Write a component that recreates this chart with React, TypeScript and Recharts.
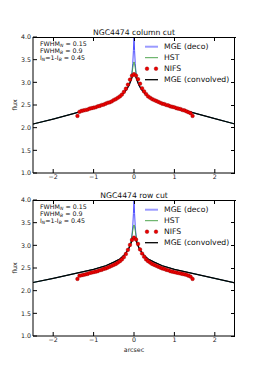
import React from 'react';
import { ComposedChart, Line, XAxis, YAxis } from 'recharts';

// model grid (arcsec) shared by the MGE / HST curves
const MODEL_X = [-2.5, -2.0, -1.5, -1.0, -0.7, -0.5, -0.35, -0.25, -0.18, -0.12, -0.08, -0.05, -0.03, -0.015, 0,
  0.015, 0.03, 0.05, 0.08, 0.12, 0.18, 0.25, 0.35, 0.5, 0.7, 1.0, 1.5, 2.0, 2.5];

const COL_DECO = [2.08, 2.19, 2.31, 2.44, 2.53, 2.61, 2.69, 2.77, 2.84, 2.93, 3.05, 3.22, 3.42, 3.70, 4.00,
  3.70, 3.42, 3.22, 3.05, 2.93, 2.84, 2.77, 2.69, 2.61, 2.53, 2.45, 2.32, 2.20, 2.08];
const COL_HST = [2.08, 2.19, 2.31, 2.44, 2.53, 2.61, 2.69, 2.77, 2.85, 2.95, 3.07, 3.20, 3.32, 3.41, 3.45,
  3.41, 3.32, 3.20, 3.07, 2.95, 2.85, 2.77, 2.69, 2.61, 2.53, 2.45, 2.32, 2.20, 2.08];
const COL_CONV = [2.08, 2.19, 2.31, 2.44, 2.53, 2.61, 2.69, 2.77, 2.85, 2.94, 3.03, 3.10, 3.15, 3.18, 3.19,
  3.18, 3.15, 3.10, 3.03, 2.94, 2.85, 2.77, 2.69, 2.61, 2.53, 2.45, 2.32, 2.20, 2.08];

const ROW_DECO = [2.18, 2.27, 2.37, 2.47, 2.55, 2.63, 2.70, 2.78, 2.85, 2.94, 3.06, 3.23, 3.43, 3.70, 4.00,
  3.70, 3.43, 3.23, 3.06, 2.94, 2.85, 2.78, 2.70, 2.63, 2.55, 2.47, 2.37, 2.27, 2.17];
const ROW_HST = [2.18, 2.27, 2.37, 2.47, 2.55, 2.63, 2.70, 2.78, 2.86, 2.96, 3.08, 3.21, 3.33, 3.41, 3.45,
  3.41, 3.33, 3.21, 3.08, 2.96, 2.86, 2.78, 2.70, 2.63, 2.55, 2.47, 2.37, 2.27, 2.17];
const ROW_CONV = [2.18, 2.27, 2.37, 2.47, 2.55, 2.63, 2.70, 2.78, 2.86, 2.95, 3.03, 3.10, 3.15, 3.18, 3.19,
  3.18, 3.15, 3.10, 3.03, 2.95, 2.86, 2.78, 2.70, 2.63, 2.55, 2.47, 2.37, 2.27, 2.17];

// NIFS spaxels along the cut
const NIFS_X = [-1.4, -1.35, -1.3, -1.25, -1.2, -1.15, -1.1, -1.05, -1.0, -0.95, -0.9, -0.85, -0.8, -0.75, -0.7,
  -0.65, -0.6, -0.55, -0.5, -0.45, -0.4, -0.35, -0.3, -0.25, -0.2, -0.15, -0.1, -0.05, 0, 0.05, 0.1, 0.15, 0.2,
  0.25, 0.3, 0.35, 0.4, 0.45, 0.5, 0.55, 0.6, 0.65, 0.7, 0.75, 0.8, 0.85, 0.9, 0.95, 1.0, 1.05, 1.1, 1.15, 1.2,
  1.25, 1.3, 1.35, 1.4, 1.45];
const NIFS_COL = [2.26, 2.35, 2.37, 2.38, 2.39, 2.40, 2.42, 2.43, 2.44, 2.45, 2.47, 2.48, 2.50, 2.51, 2.53,
  2.55, 2.56, 2.58, 2.61, 2.63, 2.66, 2.69, 2.73, 2.79, 2.86, 2.95, 3.06, 3.15, 3.18, 3.15, 3.07, 2.97, 2.87,
  2.80, 2.74, 2.69, 2.66, 2.63, 2.61, 2.59, 2.57, 2.55, 2.53, 2.52, 2.50, 2.49, 2.47, 2.46, 2.45, 2.43, 2.42,
  2.41, 2.39, 2.38, 2.36, 2.34, 2.32, 2.26];
const NIFS_ROW = [2.26, 2.33, 2.34, 2.35, 2.36, 2.37, 2.39, 2.40, 2.41, 2.42, 2.43, 2.45, 2.46, 2.48, 2.49,
  2.51, 2.53, 2.55, 2.57, 2.59, 2.62, 2.65, 2.69, 2.74, 2.81, 2.90, 3.01, 3.12, 3.17, 3.13, 3.03, 2.91, 2.82,
  2.75, 2.69, 2.65, 2.62, 2.59, 2.57, 2.55, 2.53, 2.51, 2.49, 2.48, 2.46, 2.45, 2.43, 2.42, 2.41, 2.40, 2.39,
  2.38, 2.37, 2.36, 2.35, 2.33, 2.31, 2.26];

const X_TICKS = [-2, -1, 0, 1, 2];
const Y_TICKS = [1.0, 1.5, 2.0, 2.5, 3.0, 3.5, 4.0];
const X_DOMAIN: [number, number] = [-2.5, 2.5];
const Y_DOMAIN: [number, number] = [1, 4];
const LEGEND = ['MGE (deco)', 'HST', 'NIFS', 'MGE (convolved)'];

const FONT = '"DejaVu Sans", sans-serif';
const BLUE = '#5050ff';
const GREEN = '#3c9c3c';
const RED = '#ee0000';
const RED_EDGE = '#800000';

// plot box inside each 262x187 panel
const PLOT_LEFT = 33;
const PLOT_W = 202;
const PLOT_H = 136;

const zip = (xs: number[], ys: number[]) => xs.map((x, i) => ({ x, y: ys[i] }));

const tickStyle = { fontSize: 6.3, fill: '#222', fontFamily: FONT };
const axisLine = { stroke: '#000', strokeWidth: 1 };

interface PanelProps {
  title: string;
  deco: number[];
  hst: number[];
  conv: number[];
  nifs: number[];
  top: number;
  margin: { top: number; right: number; bottom: number; left: number };
  showXLabel: boolean;
}

const Panel: React.FC<PanelProps> = ({ title, deco, hst, conv, nifs, top, margin, showXLabel }) => {
  const lx = 145;
  // axes take 1px each, the margins carry the rest
  const m = { top: margin.top, right: margin.right, bottom: margin.bottom - 1, left: margin.left - 1 };
  const right = PLOT_LEFT + PLOT_W;
  // top / right spine ticks for the matplotlib-style box
  const tx = (v: number) => PLOT_LEFT + ((v - X_DOMAIN[0]) / (X_DOMAIN[1] - X_DOMAIN[0])) * PLOT_W;
  const ty = (v: number) => margin.top + ((Y_DOMAIN[1] - v) / (Y_DOMAIN[1] - Y_DOMAIN[0])) * PLOT_H;
  return (
    <>
      <div style={{ position: 'absolute', left: 0, top }}>
        <ComposedChart width={262} height={187} margin={m}>
          <XAxis dataKey="x" type="number" domain={X_DOMAIN} allowDataOverflow ticks={X_TICKS}
            height={1} tickSize={-4} tickMargin={6} tick={tickStyle}
            tickFormatter={(v: number) => (v < 0 ? '\u2212' + Math.abs(v) : String(v))}
            axisLine={axisLine} tickLine={{ stroke: '#000' }} />
          <YAxis dataKey="y" type="number" domain={Y_DOMAIN} allowDataOverflow ticks={Y_TICKS}
            width={1} tickSize={-4} tickMargin={6} tick={tickStyle}
            tickFormatter={(v: number) => v.toFixed(1)}
            axisLine={axisLine} tickLine={{ stroke: '#000' }} />
          <Line data={zip(MODEL_X, deco)} dataKey="y" type="linear" stroke={BLUE}
            strokeWidth={1} dot={false} isAnimationActive={false} />
          <Line data={zip(MODEL_X, hst)} dataKey="y" type="linear" stroke={GREEN}
            strokeWidth={0.9} dot={false} isAnimationActive={false} />
          <Line data={zip(NIFS_X, nifs)} dataKey="y" type="linear" stroke="none"
            dot={{ r: 1.85, fill: RED, stroke: RED_EDGE, strokeWidth: 0.35 }} isAnimationActive={false} />
          <Line data={zip(MODEL_X, conv)} dataKey="y" type="linear" stroke="#000"
            strokeWidth={1.2} dot={false} isAnimationActive={false} />
        </ComposedChart>
      </div>
      <svg width={262} height={187} style={{ position: 'absolute', left: 0, top, pointerEvents: 'none' }}
        fontFamily={FONT}>
        <g stroke="#000" shapeRendering="crispEdges">
          <line x1={PLOT_LEFT} x2={right + 0.5} y1={margin.top + 0.5} y2={margin.top + 0.5} strokeWidth={1.2} />
          <line x1={right - 0.5} x2={right - 0.5} y1={margin.top} y2={margin.top + PLOT_H} strokeWidth={1.2} />
          {X_TICKS.map((t) => (
            <line key={`tx${t}`} x1={tx(t)} x2={tx(t)} y1={margin.top} y2={margin.top + 4} />
          ))}
          {Y_TICKS.map((t) => (
            <line key={`ty${t}`} x1={right} x2={right - 4} y1={ty(t)} y2={ty(t)} />
          ))}
        </g>
        <text x={134} y={margin.top - 2.5} textAnchor="middle" fontSize={7.7} fill="#111">{title}</text>
        <text x={15} y={margin.top + 68} textAnchor="middle" fontSize={6.3} fill="#222"
          transform={`rotate(-90 15 ${margin.top + 68})`} dy="0.35em">flux</text>
        {showXLabel && (
          <text x={134} y={margin.top + 152} textAnchor="middle" fontSize={6.3} fill="#222">arcsec</text>
        )}
        <g fontSize={6.3} fill="#111">
          <text x={40} y={margin.top + 9}>FWHM<tspan fontSize={4.5} fontStyle="italic" dy={1.3}>N</tspan>
            <tspan dy={-1.3}> = 0.15</tspan></text>
          <text x={40} y={margin.top + 16}>FWHM<tspan fontSize={4.5} fontStyle="italic" dy={1.3}>B</tspan>
            <tspan dy={-1.3}> = 0.9</tspan></text>
          <text x={40} y={margin.top + 22.6}>I<tspan fontSize={4.5} fontStyle="italic" dy={1.3}>N</tspan>
            <tspan dy={-1.3}>=1-I</tspan><tspan fontSize={4.5} fontStyle="italic" dy={1.3}>B</tspan>
            <tspan dy={-1.3}> = 0.45</tspan></text>
        </g>
        {LEGEND.map((label, i) => {
          const y = margin.top + 9.7 + i * 11;
          return (
            <g key={label}>
              {i === 0 && <line x1={lx} x2={lx + 13} y1={y} y2={y} stroke="#9a9aff" strokeWidth={2} />}
              {i === 1 && <line x1={lx} x2={lx + 13} y1={y} y2={y} stroke={GREEN} strokeWidth={0.9} />}
              {i === 2 && (
                <>
                  <circle cx={lx + 2} cy={y} r={1.85} fill={RED} stroke={RED_EDGE} strokeWidth={0.35} />
                  <circle cx={lx + 11} cy={y} r={1.85} fill={RED} stroke={RED_EDGE} strokeWidth={0.35} />
                </>
              )}
              {i === 3 && <line x1={lx} x2={lx + 13} y1={y} y2={y} stroke="#000" strokeWidth={1.3} />}
              <text x={lx + 19} y={y} dy="0.35em" fontSize={7.7} fill="#111">{label}</text>
            </g>
          );
        })}
      </svg>
    </>
  );
};

export default function App() {
  return (
    <div style={{ position: 'absolute', left: 0, top: 0, width: 262, height: 374, background: '#fff' }}>
      <Panel title="NGC4474  column cut" deco={COL_DECO} hst={COL_HST} conv={COL_CONV} nifs={NIFS_COL}
        top={0} margin={{ top: 37, right: 27, bottom: 14, left: 33 }} showXLabel={false} />
      <Panel title="NGC4474  row cut" deco={ROW_DECO} hst={ROW_HST} conv={ROW_CONV} nifs={NIFS_ROW}
        top={187} margin={{ top: 13, right: 27, bottom: 38, left: 33 }} showXLabel />
    </div>
  );
}
